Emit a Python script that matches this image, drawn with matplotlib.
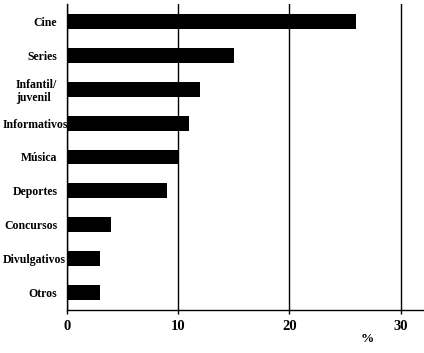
import matplotlib
matplotlib.use("Agg")
import matplotlib.pyplot as plt
from matplotlib.transforms import ScaledTranslation

# data (percent)
categories = ["Cine", "Series", "Infantil/\njuvenil", "Informativos", "Música",
              "Deportes", "Concursos", "Divulgativos", "Otros"]
values = [26, 15, 12, 11, 10, 9, 4, 3, 3]
x_ticks = [0, 10, 20, 30]

plt.rcParams["font.family"] = ["Liberation Serif", "DejaVu Serif"]
plt.rcParams["font.weight"] = "bold"

fig = plt.figure(figsize=(4.24, 3.53), dpi=100)
ax = fig.add_axes([67 / 424, 43 / 353, 357 / 424, 306 / 353])

pos = list(range(len(categories)))
ax.barh(pos, values, height=0.44, color="black", zorder=3)
ax.set_yticks(pos)
ax.set_yticklabels(categories, fontsize=8.5, fontweight="bold", linespacing=1.15)
for lbl in ax.get_yticklabels():
    lbl.set_multialignment("left")
ax.set_ylim(len(categories) - 0.48, -0.52)

ax.set_xlim(0, 32.1)
ax.set_xticks(x_ticks)
ax.set_xticklabels([str(t) for t in x_ticks], fontsize=10.5, fontweight="bold")
ax.tick_params(axis="y", length=0, pad=7)
ax.tick_params(axis="x", length=3, width=1, pad=4, direction="out")

ax.grid(axis="x", color="black", linewidth=1, zorder=1)
ax.spines["top"].set_visible(False)
ax.spines["right"].set_visible(False)
ax.spines["left"].set_linewidth(1)
ax.spines["bottom"].set_linewidth(1)

# long labels: push right so they stay inside the figure (as in the original)
fig.canvas.draw()
renderer = fig.canvas.get_renderer()
for lbl in ax.get_yticklabels():
    bb = lbl.get_window_extent(renderer)
    if bb.x0 < 3:
        shift = 3 - bb.x0
        lbl.set_transform(lbl.get_transform()
                          + ScaledTranslation(shift / fig.dpi, 0, fig.dpi_scale_trans))

fig.text(367 / 424, 1 - 339 / 353, "%", ha="center", va="center",
         fontsize=9.5, fontweight="bold")

fig.savefig("out.png", dpi=100)
